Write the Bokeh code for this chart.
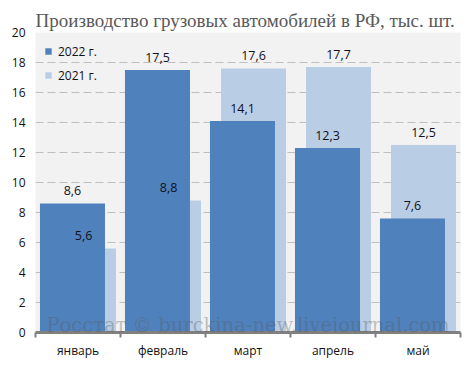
import numpy as np
from bokeh.plotting import figure
from bokeh.models import ColumnDataSource, FixedTicker, LabelSet, Label, Legend, LegendItem, Range1d
from bokeh.core.properties import value
from bokeh.embed import file_html
from bokeh.resources import INLINE

months = ["январь", "февраль", "март", "апрель", "май"]
y2022 = [8.6, 17.5, 14.1, 12.3, 7.6]
y2021 = [5.6, 8.8, 17.6, 17.7, 12.5]
series_names = ["2022 г.", "2021 г."]
y_ticks = [0, 2, 4, 6, 8, 10, 12, 14, 16, 18, 20]

DARK = "#4F81BD"
LIGHT = "#B9CDE5"
FONT = "Open Sans"

idx = np.arange(len(months))
centers = idx + 0.5
offset = 0.065
bar_w = 0.765

def fmt(v):
    return f"{v:.1f}".replace(".", ",")

src22 = ColumnDataSource(dict(x=centers - offset, top=y2022, lbl=[fmt(v) for v in y2022]))
src21 = ColumnDataSource(dict(x=centers + offset, top=y2021, lbl=[fmt(v) for v in y2021]))

p = figure(width=466, height=365, output_backend="svg", toolbar_location=None,
           x_range=Range1d(0, len(months)), y_range=Range1d(0, 20),
           min_border_left=35, min_border_right=6, min_border_top=32, min_border_bottom=33)
p.title.text = "Производство грузовых автомобилей в РФ, тыс. шт."
p.title.text_font = "Liberation Serif"
p.title.text_font_size = "19px"
p.title.text_font_style = "normal"
p.title.text_color = "#595959"
p.title.offset = 0
p.title.standoff = 4

p.background_fill_color = "#F2F2F2"
p.border_fill_color = "white"
p.outline_line_color = None

r21 = p.vbar(x="x", top="top", width=bar_w, source=src21, color=LIGHT, line_color=None)
r22 = p.vbar(x="x", top="top", width=bar_w, source=src22, color=DARK, line_color=None)

for src in (src22, src21):
    ls = LabelSet(x="x", y="top", text="lbl", source=src, text_align="center",
                  text_baseline="middle", y_offset=13, text_font=value(FONT),
                  text_font_size=value("12.5px"), text_color="#111122")
    p.add_layout(ls)

wm = Label(x=len(months) / 2, y=0.47, text="Росстат © burckina-new.livejournal.com",
           text_align="center", text_baseline="alphabetic", text_font="DejaVu Serif",
           text_font_size="19.5px", text_color="#5A5A5A", text_alpha=0.35)
p.add_layout(wm)

# axes
xa = p.xaxis[0]
xa.ticker = FixedTicker(ticks=list(centers), minor_ticks=list(np.arange(len(months) + 1)))
xa.major_label_overrides = {float(c): m for c, m in zip(centers, months)}
xa.major_tick_line_color = None
xa.major_tick_out = 0
xa.major_tick_in = 0
xa.minor_tick_line_color = "#808080"
xa.minor_tick_line_width = 2
xa.minor_tick_out = 5
xa.minor_tick_in = 0
xa.axis_line_color = "#808080"
xa.axis_line_width = 3
xa.major_label_text_font = FONT
xa.major_label_text_font_size = "12px"
xa.major_label_text_color = "#111111"
xa.major_label_standoff = 4

ya = p.yaxis[0]
ya.ticker = FixedTicker(ticks=y_ticks)
ya.axis_line_color = None
ya.major_tick_line_color = None
ya.major_tick_out = 0
ya.major_tick_in = 0
ya.minor_tick_line_color = None
ya.major_label_text_font = FONT
ya.major_label_text_font_size = "12px"
ya.major_label_text_color = "#111111"
ya.major_label_standoff = 10

p.xgrid.grid_line_color = None
p.ygrid.grid_line_color = "#BFBFBF"
p.ygrid.grid_line_dash = "8 4"
p.ygrid.grid_line_width = 1

legend = Legend(items=[LegendItem(label=series_names[0], renderers=[r22]),
                       LegendItem(label=series_names[1], renderers=[r21])],
                location="top_left", margin=0, padding=9, spacing=4,
                glyph_width=8, glyph_height=8, label_standoff=6, label_height=20,
                label_text_font=FONT, label_text_font_size="12px",
                label_text_color="#111111",
                background_fill_alpha=0, border_line_color="white", border_line_alpha=0)
p.add_layout(legend)

open("out.html", "w").write(file_html(p, INLINE))
